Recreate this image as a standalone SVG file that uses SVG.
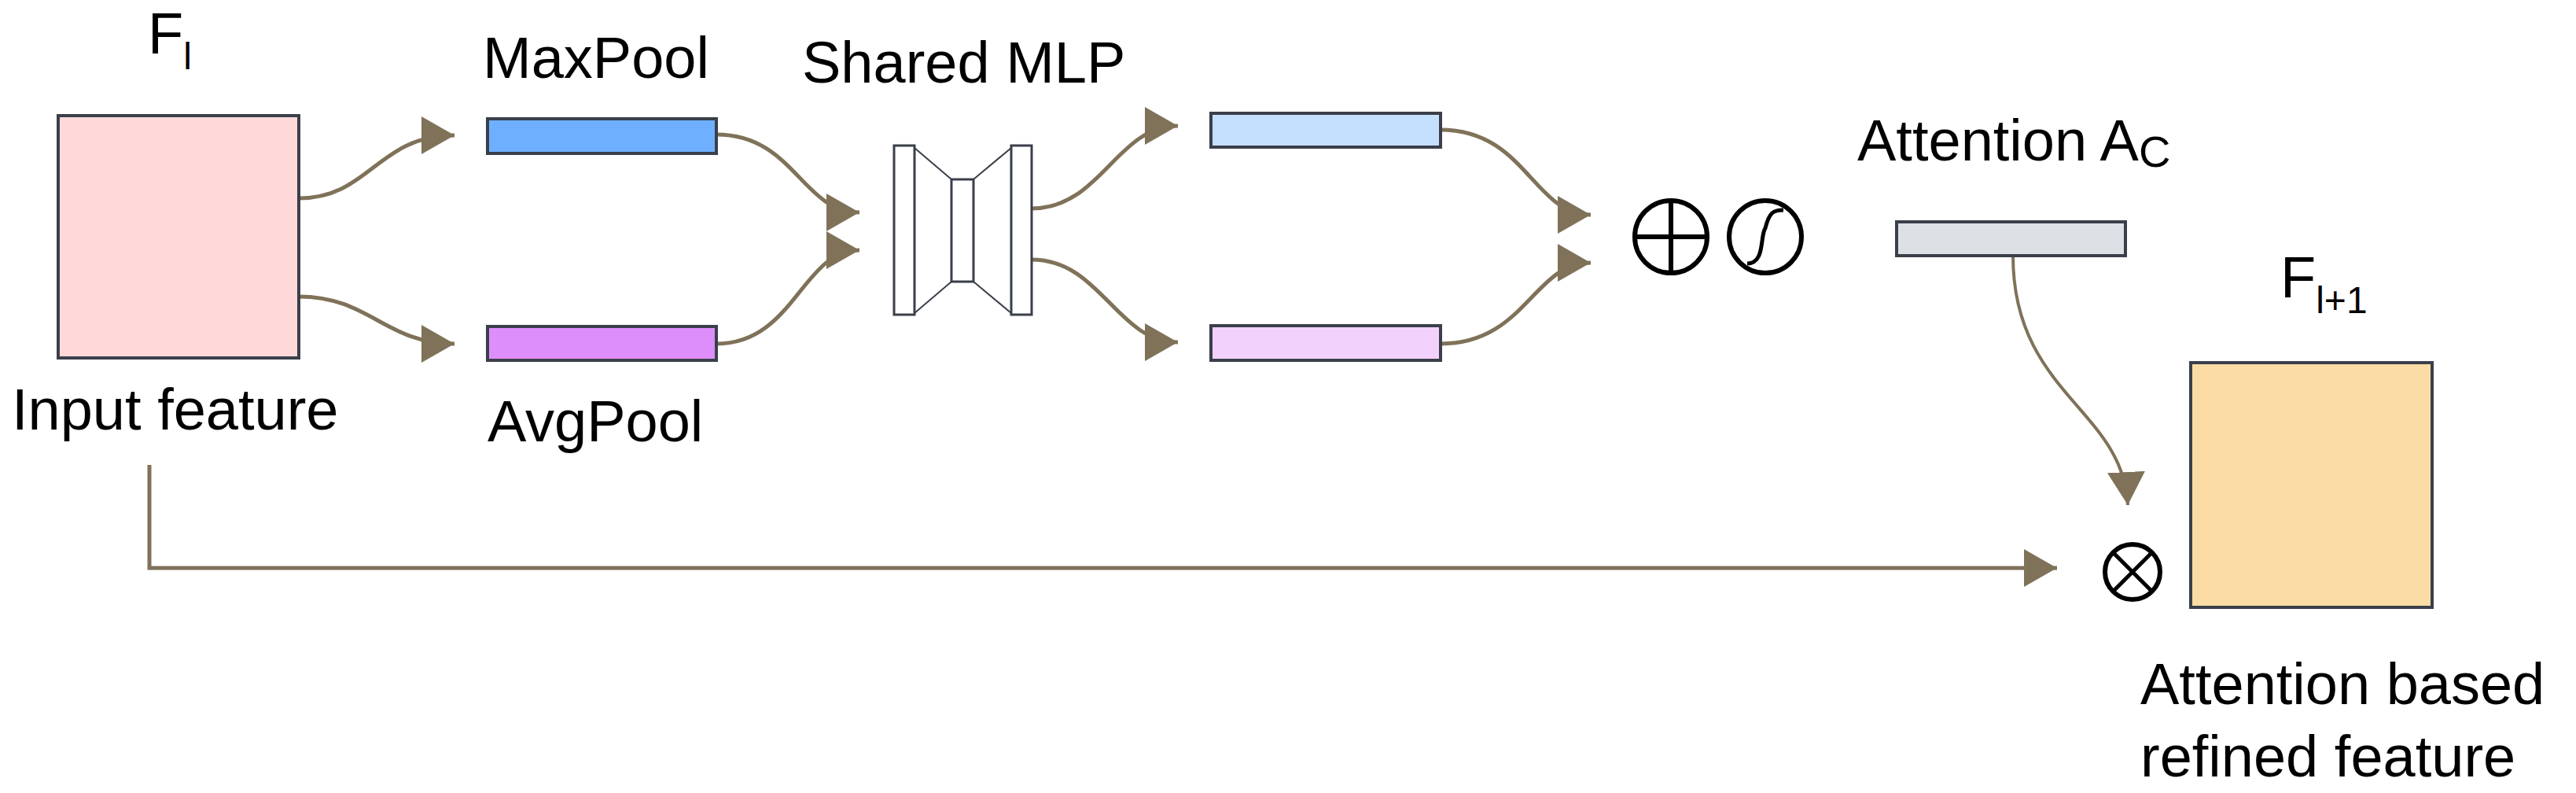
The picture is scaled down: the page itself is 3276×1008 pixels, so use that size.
<svg xmlns="http://www.w3.org/2000/svg" width="3276" height="1008" viewBox="0 0 3276 1008">
<style>
text{font-family:"Liberation Sans",Arial,sans-serif;fill:#000}
.lbl{font-size:74px}
.box{stroke:#3a3f4a;stroke-width:4}
.c{fill:none;stroke:#7f7259;stroke-width:5}
.op{fill:#fff;stroke:#000;stroke-width:6}
.mlp{fill:#fff;stroke:#3a3f4a;stroke-width:3}
</style>
<defs>
<marker id="a" markerUnits="userSpaceOnUse" markerWidth="44" markerHeight="48" refX="42" refY="24" orient="auto"><path d="M0,0 L42,24 L0,48 Z" fill="#7f7259"/></marker>
</defs>
<rect width="3276" height="1008" fill="#fff"/>
<g id="connectors">
<path class="c" d="M380,252 C470,252 480,172 578,172" marker-end="url(#a)"/>
<path class="c" d="M380,377 C470,377 490,437 578,437" marker-end="url(#a)"/>
<path class="c" d="M911,171 C1010,171 1020,270 1093,270" marker-end="url(#a)"/>
<path class="c" d="M911,437 C1010,437 1020,318 1093,318" marker-end="url(#a)"/>
<path class="c" d="M1312,265 C1400,265 1420,160 1498,160" marker-end="url(#a)"/>
<path class="c" d="M1312,330 C1400,330 1420,435 1498,435" marker-end="url(#a)"/>
<path class="c" d="M1832,165 C1940,165 1950,273 2023,273" marker-end="url(#a)"/>
<path class="c" d="M1832,437 C1940,437 1950,334 2023,334" marker-end="url(#a)"/>
<path class="c" style="stroke-width:4" d="M2560,325 C2560,500 2700,520 2706,642" marker-end="url(#a)"/>
<path class="c" d="M190,591 L190,722 L2616,722" marker-end="url(#a)"/>
</g>
<g id="input"><rect class="box" x="74" y="147" width="306" height="308" fill="#ffd9d9"/>
<text class="lbl" x="188" y="68">F<tspan font-size="48" dy="20">l</tspan></text>
<text class="lbl" x="15" y="546">Input feature</text></g>
<g id="maxpool"><rect class="box" x="620" y="151" width="291" height="44" fill="#6eb0ff"/><text class="lbl" x="614" y="99">MaxPool</text></g>
<g id="avgpool"><rect class="box" x="620" y="415" width="291" height="43" fill="#de8efa"/><text class="lbl" x="620" y="561">AvgPool</text></g>
<g id="mlp">
<path d="M1163,188 L1210,228 M1163,398 L1210,358 M1238,228 L1286,188 M1238,358 L1286,398" stroke="#3a3f4a" stroke-width="2" fill="none"/>
<rect class="mlp" x="1137" y="185" width="26" height="215"/>
<rect class="mlp" x="1210" y="228" width="28" height="130"/>
<rect class="mlp" x="1286" y="185" width="26" height="215"/>
<text class="lbl" x="1020" y="105">Shared MLP</text></g>
<g id="mlpout1"><rect class="box" x="1540" y="144" width="292" height="43" fill="#c5e0ff"/></g>
<g id="mlpout2"><rect class="box" x="1540" y="414" width="292" height="44" fill="#f2d2fc"/></g>
<g id="sum"><circle class="op" cx="2125" cy="301" r="46"/><path d="M2079,301 H2171 M2125,255 V347" stroke="#000" stroke-width="6"/></g>
<g id="sigmoid"><circle class="op" cx="2245" cy="301" r="46"/><path d="M2222,335 C2245,335 2238,300 2245,290 C2250,270 2255,267 2268,267" fill="none" stroke="#000" stroke-width="5"/></g>
<g id="attention"><rect class="box" x="2412" y="282" width="291" height="43" fill="#dde0e5"/>
<text class="lbl" x="2362" y="204">Attention A<tspan font-size="56" dy="8">C</tspan></text></g>
<g id="mul"><circle class="op" cx="2712" cy="727" r="35"/><path d="M2687,702 L2737,752 M2737,702 L2687,752" stroke="#000" stroke-width="5"/></g>
<g id="output"><rect class="box" x="2786" y="461" width="307" height="311" fill="#fcdca5"/>
<text class="lbl" x="2900" y="378">F<tspan font-size="48" dy="20">l+1</tspan></text>
<text class="lbl" x="2722" y="895">Attention based</text>
<text class="lbl" x="2722" y="987">refined feature</text></g>
</svg>
